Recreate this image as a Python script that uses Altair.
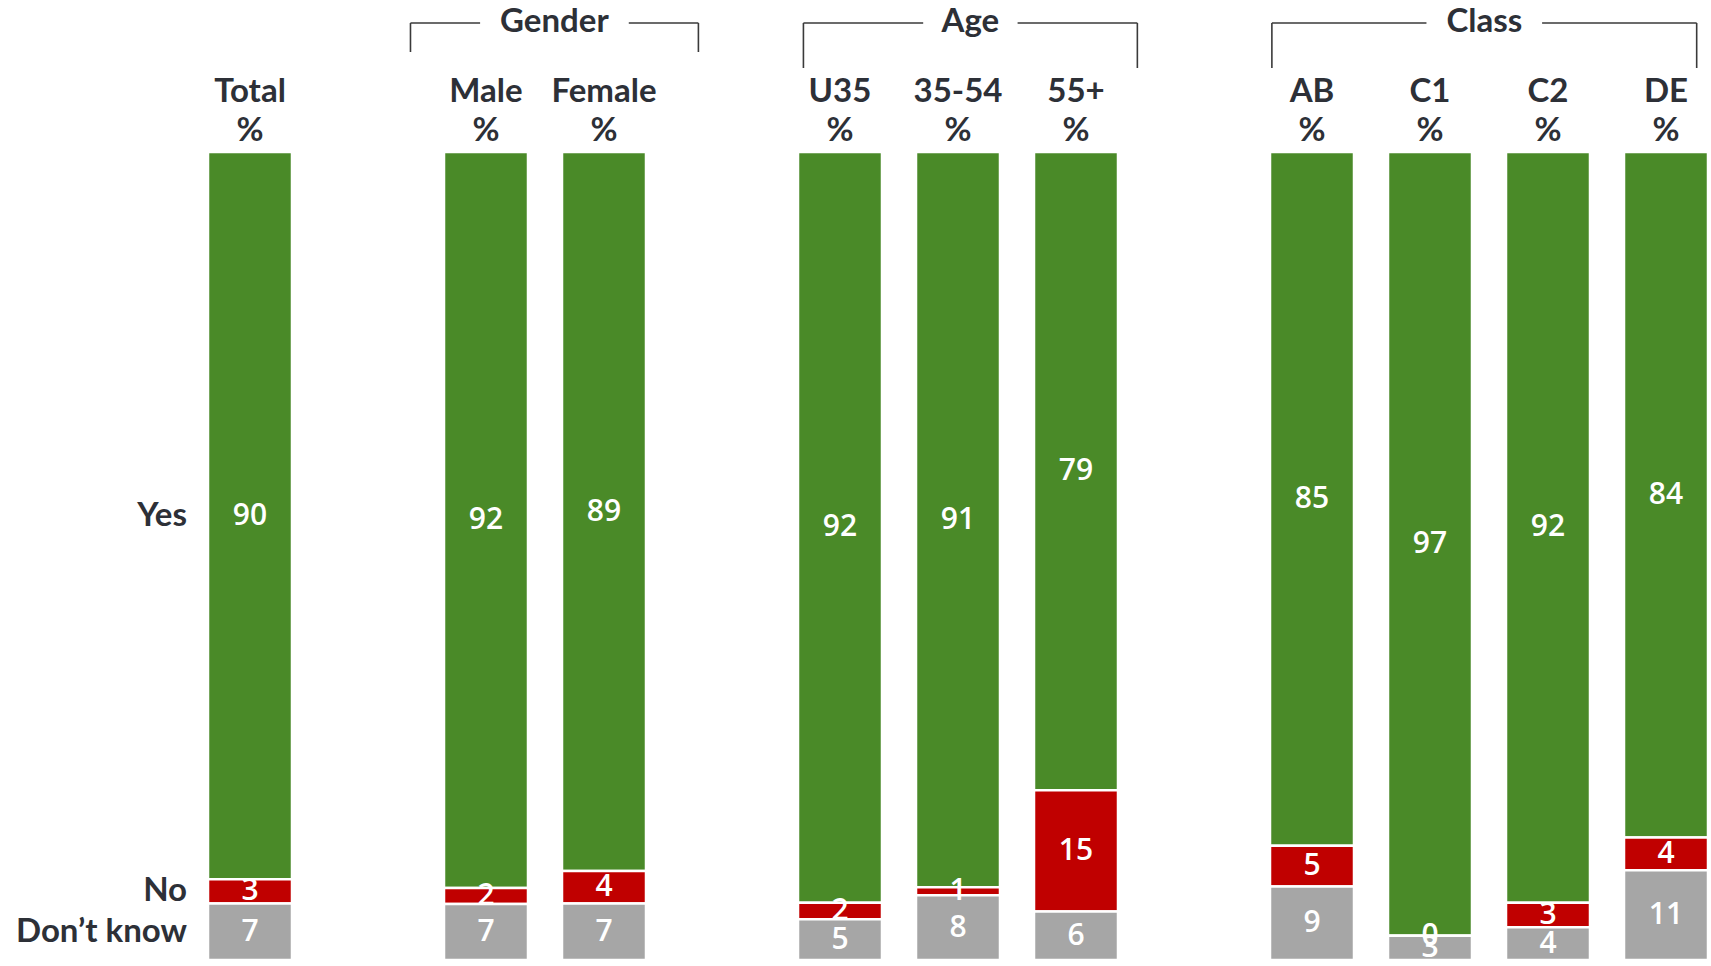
import altair as alt
import pandas as pd

# Survey results, in percent
columns = ["Total", "Male", "Female", "U35", "35-54", "55+", "AB", "C1", "C2", "DE"]
yes = [90, 92, 89, 92, 91, 79, 85, 97, 92, 84]
no = [3, 2, 4, 2, 1, 15, 5, 0, 3, 4]
dont_know = [7, 7, 7, 5, 8, 6, 9, 3, 4, 11]
responses = ["Yes", "No", "Don’t know"]
groups = ["Gender", "Age", "Class"]
group_members = [["Male", "Female"], ["U35", "35-54", "55+"], ["AB", "C1", "C2", "DE"]]

# ---- layout -------------------------------------------------------------
W, H = 1498, 808            # plot area
STEP, BAR = 118, 84         # pixels per slot, bar width
HEAD_FONT = "Lato"
VALUE_FONT = "Open Sans"
INK = "#2d3037"
COLORS = {"Yes": "#4a8a28", "No": "#c00000", "Don’t know": "#a6a6a6"}

# slot index for each column: one empty slot before every group
slot = {}
s = 0
for c in columns:
    if any(c == m[0] for m in group_members):
        s += 1
    slot[c] = s
    s += 1

# bracket geometry per group (slot units / pixel offsets above the plot)
bracket_pad = {"Gender": (0.64, 0.80), "Age": (0.31, 0.52), "Class": (0.34, 0.26)}
bracket_gap = {"Gender": 0.63, "Age": 0.40, "Class": 0.49}
bracket_drop = {"Gender": -100, "Age": -84, "Class": -84}
LINE_Y = -129

# ---- tables -------------------------------------------------------------
rows = []
for i, c in enumerate(columns):
    for k, (r, v) in enumerate(zip(responses, [yes[i], no[i], dont_know[i]])):
        rows.append({"column": c, "slot": slot[c], "response": r,
                     "value": v, "order": 2 - k})
df = pd.DataFrame(rows)

heads = pd.DataFrame({"column": columns, "slot": [slot[c] for c in columns]})

hseg, vseg, glab = [], [], []
for g, members in zip(groups, group_members):
    left = slot[members[0]] - bracket_pad[g][0]
    right = slot[members[-1]] + bracket_pad[g][1]
    mid = (left + right) / 2
    glab.append({"group": g, "x": mid})
    hseg.append({"x": left, "x2": mid - bracket_gap[g]})
    hseg.append({"x": mid + bracket_gap[g], "x2": right})
    vseg.append({"x": left, "y": LINE_Y, "y2": bracket_drop[g]})
    vseg.append({"x": right, "y": LINE_Y, "y2": bracket_drop[g]})
hseg, vseg, glab = pd.DataFrame(hseg), pd.DataFrame(vseg), pd.DataFrame(glab)

# ---- scales -------------------------------------------------------------
x0 = -41 / STEP
xs = alt.Scale(domain=[x0, x0 + W / STEP], nice=False, zero=False, padding=0)
ys = alt.Scale(domain=[0, 1], nice=False, padding=0)
color = alt.Color("response:N",
                  scale=alt.Scale(domain=responses, range=[COLORS[r] for r in responses]),
                  legend=None)

base = alt.Chart(df).transform_stack(
    stack="value", groupby=["column"], as_=["y0", "y1"],
    offset="normalize", sort=[alt.SortField("order")]
).transform_calculate(mid="(datum.y0 + datum.y1) / 2")

bars = base.mark_bar(size=BAR, stroke="white", strokeWidth=2.5).encode(
    x=alt.X("slot:Q", scale=xs, axis=None),
    y=alt.Y("y0:Q", scale=ys, axis=None),
    y2="y1:Q",
    color=color,
)

values = base.mark_text(color="white", font=VALUE_FONT, fontSize=30,
                        fontWeight=600, baseline="middle").encode(
    x=alt.X("slot:Q", scale=xs),
    y=alt.Y("mid:Q", scale=ys),
    text="value:Q",
)

row_labels = base.transform_filter(alt.datum.column == "Total").mark_text(
    align="right", baseline="middle", dx=-63, color=INK,
    font=HEAD_FONT, fontSize=33, fontWeight="bold"
).encode(
    x=alt.X("slot:Q", scale=xs),
    y=alt.Y("mid:Q", scale=ys),
    text="response:N",
)

hbase = alt.Chart(heads).encode(x=alt.X("slot:Q", scale=xs))
head_names = hbase.mark_text(font=HEAD_FONT, fontSize=33, fontWeight="bold",
                             color=INK, baseline="middle").encode(
    y=alt.value(-60), text="column:N")
head_pct = hbase.mark_text(font=HEAD_FONT, fontSize=33, fontWeight="bold",
                           color=INK, baseline="middle").encode(
    y=alt.value(-21), text=alt.value("%"))

group_text = alt.Chart(glab).mark_text(font=HEAD_FONT, fontSize=33, fontWeight="bold",
                                       color=INK, baseline="middle").encode(
    x=alt.X("x:Q", scale=xs), y=alt.value(-130), text="group:N")

h_lines = alt.Chart(hseg).mark_rule(color="#3a3a3a", strokeWidth=1.6).encode(
    x=alt.X("x:Q", scale=xs), x2="x2:Q", y=alt.value(LINE_Y))
v_lines = alt.Chart(vseg).mark_rule(color="#3a3a3a", strokeWidth=1.6).encode(
    x=alt.X("x:Q", scale=xs),
    y=alt.Y("y:Q", scale=None), y2="y2:Q")

chart = alt.layer(
    bars, values, row_labels, head_names, head_pct, group_text, h_lines, v_lines
).properties(
    width=W, height=H,
    autosize=alt.AutoSizeParams(type="none"),
    padding={"left": 209, "top": 152, "right": 4, "bottom": 0},
    background="white",
).configure_view(stroke=None)

chart.save("out.html", embed_options={"renderer": "svg", "actions": False})
